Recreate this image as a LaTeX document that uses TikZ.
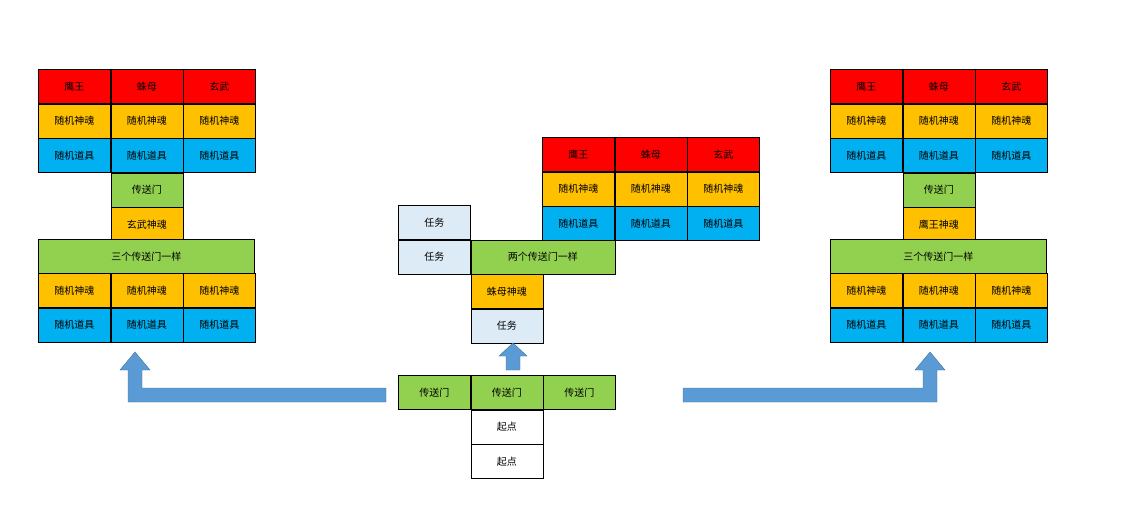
\documentclass[tikz,border=0pt]{standalone}
\usepackage{fontspec}
\setmainfont{Noto Sans CJK SC}
\usetikzlibrary{positioning}
\definecolor{cred}{HTML}{FF0000}
\definecolor{corange}{HTML}{FFC000}
\definecolor{cblue}{HTML}{00B0F0}
\definecolor{cgreen}{HTML}{92D050}
\definecolor{ctask}{HTML}{DDEBF7}
\definecolor{carrow}{HTML}{5B9BD5}
\definecolor{cedge}{HTML}{41719C}
\begin{document}
\begin{tikzpicture}[x=1pt,y=-1pt,
    font=\fontsize{10}{12}\selectfont,
    cell/.style={rectangle, draw=black, line width=0.5pt, anchor=north west, inner sep=0pt,
      minimum width=72pt, minimum height=34pt},
    wide/.style={cell, minimum width=144pt},
    wider/.style={cell, minimum width=216pt},
    bigarrow/.style={fill=carrow, draw=cedge, line width=0.4pt}
  ]
  \useasboundingbox (0,0) rectangle (1124,504);

  % --- LEFT AND RIGHT BLOCKS ---
  \foreach \bx/\soul/\pre in {38/玄武神魂/L, 830/鹰王神魂/R} {
    \node[cell, fill=cred] (\pre a1) at (\bx,69) {鹰王};
    \node[cell, fill=cred, right=0pt of \pre a1.north east, anchor=north west] (\pre a2) {蛛母};
    \node[cell, fill=cred, right=0pt of \pre a2.north east, anchor=north west] (\pre a3) {玄武};
    \foreach \c in {1,2,3} {
      \node[cell, fill=corange, below=0pt of \pre a\c.south west, anchor=north west] (\pre b\c) {随机神魂};
      \node[cell, fill=cblue, below=0pt of \pre b\c.south west, anchor=north west] (\pre c\c) {随机道具};
    }
    \node[cell, fill=cgreen, below=0pt of \pre c2.south west, anchor=north west] (\pre door) {传送门};
    \node[cell, fill=corange, below=0pt of \pre door.south west, anchor=north west] (\pre soul) {\soul};
    \node[wider, fill=cgreen] (\pre same) at (\bx,239) {三个传送门一样};
    \node[cell, fill=corange] (\pre d1) at (\bx,273) {随机神魂};
    \node[cell, fill=corange, right=0pt of \pre d1.north east, anchor=north west] (\pre d2) {随机神魂};
    \node[cell, fill=corange, right=0pt of \pre d2.north east, anchor=north west] (\pre d3) {随机神魂};
    \foreach \c in {1,2,3}
      \node[cell, fill=cblue, below=0pt of \pre d\c.south west, anchor=north west] (\pre e\c) {随机道具};
  }

  % --- CENTRE BLOCK ---
  \node[cell, fill=cred] (Ma1) at (542,137) {鹰王};
  \node[cell, fill=cred, right=0pt of Ma1.north east, anchor=north west] (Ma2) {蛛母};
  \node[cell, fill=cred, right=0pt of Ma2.north east, anchor=north west] (Ma3) {玄武};
  \foreach \c in {1,2,3} {
    \node[cell, fill=corange, below=0pt of Ma\c.south west, anchor=north west] (Mb\c) {随机神魂};
    \node[cell, fill=cblue, below=0pt of Mb\c.south west, anchor=north west] (Mc\c) {随机道具};
  }
  \node[cell, fill=ctask] (task1) at (398,205) {任务};
  \node[cell, fill=ctask, below=0pt of task1.south west, anchor=north west] (task2) {任务};
  \node[wide, fill=cgreen, right=0pt of task2.north east, anchor=north west] (twosame) {两个传送门一样};
  \node[cell, fill=corange, below=0pt of twosame.south west, anchor=north west] (spider) {蛛母神魂};
  \node[cell, fill=ctask, below=0pt of spider.south west, anchor=north west] (task3) {任务};

  % --- START ---
  \node[cell, fill=cgreen] (door1) at (398,375) {传送门};
  \node[cell, fill=cgreen, right=0pt of door1.north east, anchor=north west] (door2) {传送门};
  \node[cell, fill=cgreen, right=0pt of door2.north east, anchor=north west] (door3) {传送门};
  \node[cell, fill=white, below=0pt of door2.south west, anchor=north west] (start1) {起点};
  \node[cell, fill=white, below=0pt of start1.south west, anchor=north west] (start2) {起点};

  % --- BLOCK ARROWS ---
  \draw[bigarrow] (386,388) -- (142,388) -- (142,370) -- (150,370) -- (135,352)
    -- (120,370) -- (128,370) -- (128,402) -- (386,402) -- cycle;
  \draw[bigarrow] (683,388) -- (923,388) -- (923,370) -- (915,370) -- (930,352)
    -- (945,370) -- (937,370) -- (937,402) -- (683,402) -- cycle;
  \draw[bigarrow] (506,370) -- (506,356) -- (499,356) -- (513,343)
    -- (527,356) -- (520,356) -- (520,370) -- cycle;
\end{tikzpicture}
\end{document}
